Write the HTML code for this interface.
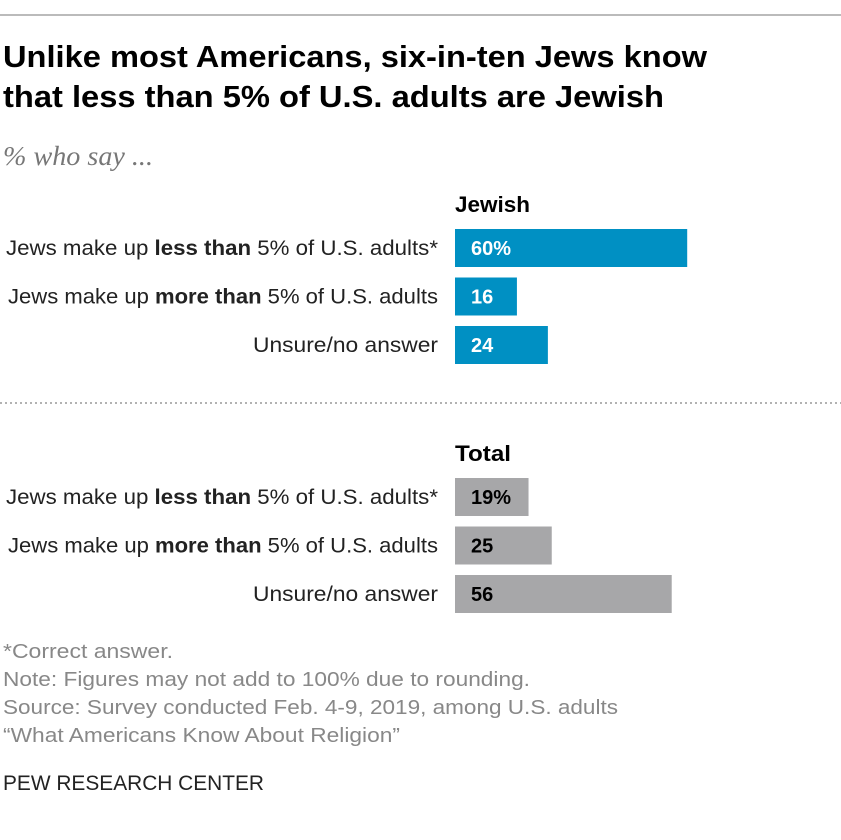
<!DOCTYPE html>
<html><head><meta charset="utf-8"><style>
body{margin:0;background:#fff;}
svg{display:block;font-family:"Liberation Sans",sans-serif;}
</style></head><body>
<svg id="chart" width="841" height="840" viewBox="0 0 841 840" xmlns="http://www.w3.org/2000/svg">
<line x1="0" y1="15" x2="841" y2="15" stroke="#777" stroke-width="1"/>
<text x="3" y="67" font-size="31" font-weight="bold" textLength="704" lengthAdjust="spacingAndGlyphs">Unlike most Americans, six-in-ten Jews know</text>
<text x="3" y="107" font-size="31" font-weight="bold" textLength="661" lengthAdjust="spacingAndGlyphs">that less than 5% of U.S. adults are Jewish</text>
<text x="3" y="165" font-size="27" font-style="italic" fill="#777" font-family="Liberation Serif, serif" textLength="150" lengthAdjust="spacingAndGlyphs">% who say ...</text>
<g id="bars"></g>
<line x1="0" y1="403" x2="841" y2="403" stroke="#999" stroke-width="1.5" stroke-dasharray="2,3"/>
<g fill="#888" font-size="20">
<text x="3" y="658" textLength="170" lengthAdjust="spacingAndGlyphs">*Correct answer.</text>
<text x="3" y="686" textLength="527" lengthAdjust="spacingAndGlyphs">Note: Figures may not add to 100% due to rounding.</text>
<text x="3" y="714" textLength="615" lengthAdjust="spacingAndGlyphs">Source: Survey conducted Feb. 4-9, 2019, among U.S. adults</text>
<text x="3" y="742" textLength="397" lengthAdjust="spacingAndGlyphs">“What Americans Know About Religion”</text>
</g>
<text x="3" y="790" font-size="21" fill="#222" textLength="261" lengthAdjust="spacingAndGlyphs">PEW RESEARCH CENTER</text>
</svg>
<script>
const categories=["less","more","unsure"];
const groups=["Jewish","Total"];
const jewishValues=[60,16,24];
const totalValues=[19,25,56];
const valueLabels=[["60%","16","24"],["19%","25","56"]];
const ns="http://www.w3.org/2000/svg";
const g=document.getElementById("bars");
const x0=455,scale=3.87;
const xs=v=>v*scale;
const groupTop=[229,478],rowStep=48.5,barH=38;
const colors=["#0090c3","#a7a7a9"];
const textColors=["#fff","#000"];
const labelLens=[432,430,185];
const headerLens=[75,56];
function mk(tag,attrs,txt){const e=document.createElementNS(ns,tag);for(const k in attrs)e.setAttribute(k,attrs[k]);if(txt!=null)e.textContent=txt;return e;}
[jewishValues,totalValues].forEach((vals,gi)=>{
  const h=mk("text",{x:x0,y:groupTop[gi]-17,"font-size":22,"font-weight":"bold",textLength:headerLens[gi],lengthAdjust:"spacingAndGlyphs"},groups[gi]);
  
  
  g.appendChild(h);
  vals.forEach((v,i)=>{
    const y=groupTop[gi]+i*rowStep;
    const lab=mk("text",{x:438,y:y+barH/2+7,"font-size":21,"text-anchor":"end",fill:"#222",textLength:labelLens[i],lengthAdjust:"spacingAndGlyphs"});
    if(i<2){lab.appendChild(mk("tspan",{},"Jews make up "));lab.appendChild(mk("tspan",{"font-weight":"bold"},i==0?"less than":"more than"));lab.appendChild(mk("tspan",{},i==0?" 5% of U.S. adults*":" 5% of U.S. adults"));}
    else lab.textContent="Unsure/no answer";
    
    
    g.appendChild(lab);
    const r=mk("rect",{x:x0,y:y,width:xs(v),height:barH,fill:colors[gi]});
    
    
    g.appendChild(r);
    const t=mk("text",{x:x0+16,y:y+barH/2+7,"font-size":20,"font-weight":"bold",fill:textColors[gi]},valueLabels[gi][i]);
    
    
    g.appendChild(t);
  });
});
</script>
</body></html>
